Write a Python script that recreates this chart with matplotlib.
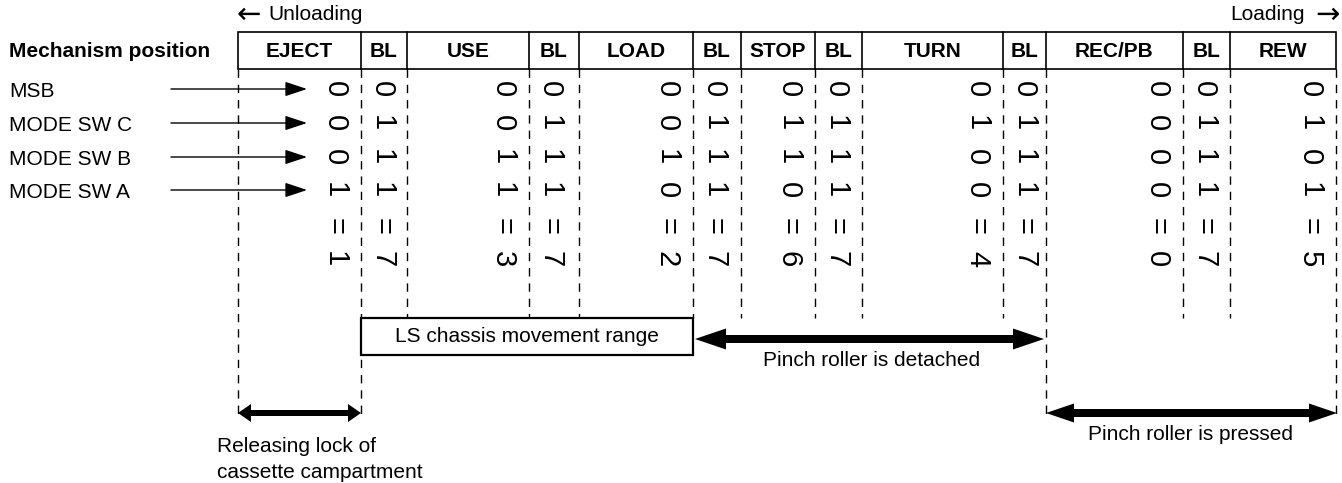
import matplotlib
matplotlib.use('Agg')
import matplotlib.pyplot as plt
from matplotlib.patches import Rectangle, FancyArrow

plt.rcParams['font.family'] = ['Liberation Sans', 'DejaVu Sans']

# ---- data ----
positions = ["EJECT", "BL", "USE", "BL", "LOAD", "BL", "STOP", "BL",
             "TURN", "BL", "REC/PB", "BL", "REW"]
msb   = [0, 0, 0, 0, 0, 0, 0, 0, 0, 0, 0, 0, 0]
sw_c  = [0, 1, 0, 1, 0, 1, 1, 1, 1, 1, 0, 1, 1]
sw_b  = [0, 1, 1, 1, 1, 1, 1, 1, 0, 1, 0, 1, 0]
sw_a  = [1, 1, 1, 1, 0, 1, 0, 1, 0, 1, 0, 1, 1]
value = [1, 7, 3, 7, 2, 7, 6, 7, 4, 7, 0, 7, 5]
row_labels = ["MSB", "MODE SW C", "MODE SW B", "MODE SW A"]

# ---- layout (pixels) ----
edges = [238, 361, 407, 529, 579, 693, 741, 815, 862, 1003, 1046, 1183, 1230, 1336]
head_top, head_bot = 32, 69
row_y = [89, 123, 157, 190]
eq_y, val_y = 226, 259

fig = plt.figure(figsize=(13.42, 4.83), dpi=100)
ax = fig.add_axes([0, 0, 1, 1])
ax.set_xlim(0, 1342)
ax.set_ylim(483, 0)
ax.axis('off')

FS = 15

# header box
ax.add_patch(Rectangle((edges[0], head_top), edges[-1] - edges[0], head_bot - head_top,
                       fill=False, lw=1.2, ec='black'))
for x in edges[1:-1]:
    ax.plot([x, x], [head_top, head_bot], color='black', lw=1.2)
for i, name in enumerate(positions):
    cx = (edges[i] + edges[i + 1]) / 2
    ax.text(cx, (head_top + head_bot) / 2 + 1, name, ha='center', va='center',
            fontsize=FS, fontweight='bold')

ax.text(9, (head_top + head_bot) / 2 + 1, "Mechanism position", ha='left', va='center',
        fontsize=FS, fontweight='bold')
ax.text(237, 15, "\u2190", ha='left', va='center', fontsize=21, family='DejaVu Sans')
ax.text(268, 15, "Unloading", ha='left', va='center', fontsize=FS)
ax.text(1340, 15, "\u2192", ha='right', va='center', fontsize=21, family='DejaVu Sans')
ax.text(1305, 15, "Loading", ha='right', va='center', fontsize=FS)

# dashed vertical lines
long_idx = {0, 1, 10, 13}
for i, x in enumerate(edges):
    bottom = 415 if i in long_idx else 318
    ax.plot([x, x], [head_bot, bottom], color='black', lw=1, ls=(0, (6, 5)))

# row labels & arrows
for lab, y in zip(row_labels, row_y):
    ax.text(9, y + 8, lab, ha='left', va='baseline', fontsize=FS)
    ax.annotate('', xy=(307, y), xytext=(171, y),
                arrowprops=dict(arrowstyle='-|>,head_length=1.35,head_width=0.45',
                                lw=1, color='black', shrinkA=0, shrinkB=0))

# rotated digits
rows = [msb, sw_c, sw_b, sw_a]
DFS = 21
for i, name in enumerate(positions):
    if name == "BL":
        x = edges[i] + 21
    else:
        x = edges[i + 1] - 26
    for vals, y in zip(rows, row_y):
        ax.text(x, y, str(vals[i]), rotation=-90, ha='center', va='center', fontsize=DFS)
    ax.text(x, eq_y, "=", rotation=-90, ha='center', va='center', fontsize=DFS)
    ax.text(x, val_y, str(value[i]), rotation=-90, ha='center', va='center', fontsize=DFS)

# LS chassis box
ax.add_patch(Rectangle((edges[1], 318), edges[5] - edges[1], 37, fc='white', ec='black',
                       lw=1.6, zorder=3))
ax.text((edges[1] + edges[5]) / 2, 337, "LS chassis movement range", ha='center',
        va='center', fontsize=FS, zorder=4)


def dbl_arrow(x0, x1, y, w, hw, hl):
    mid = (x0 + x1) / 2
    for end in (x0, x1):
        start = mid + (4 if end < mid else -4)
        ax.add_patch(FancyArrow(start, y, end - start, 0, width=w, head_width=hw,
                                head_length=hl, length_includes_head=True,
                                color='black', lw=0, zorder=5))


dbl_arrow(695, 1044, 339, 8, 21, 31)
dbl_arrow(1046, 1337, 413, 8, 19, 28)
dbl_arrow(238, 361, 413, 6, 18, 13)

ax.text(872, 361, "Pinch roller is detached", ha='center', va='center', fontsize=FS)
ax.text(1190, 435, "Pinch roller is pressed", ha='center', va='center', fontsize=FS)
ax.text(217, 447, "Releasing lock of", ha='left', va='center', fontsize=FS)
ax.text(217, 472, "cassette campartment", ha='left', va='center', fontsize=FS)

fig.savefig('out.png', dpi=100)
